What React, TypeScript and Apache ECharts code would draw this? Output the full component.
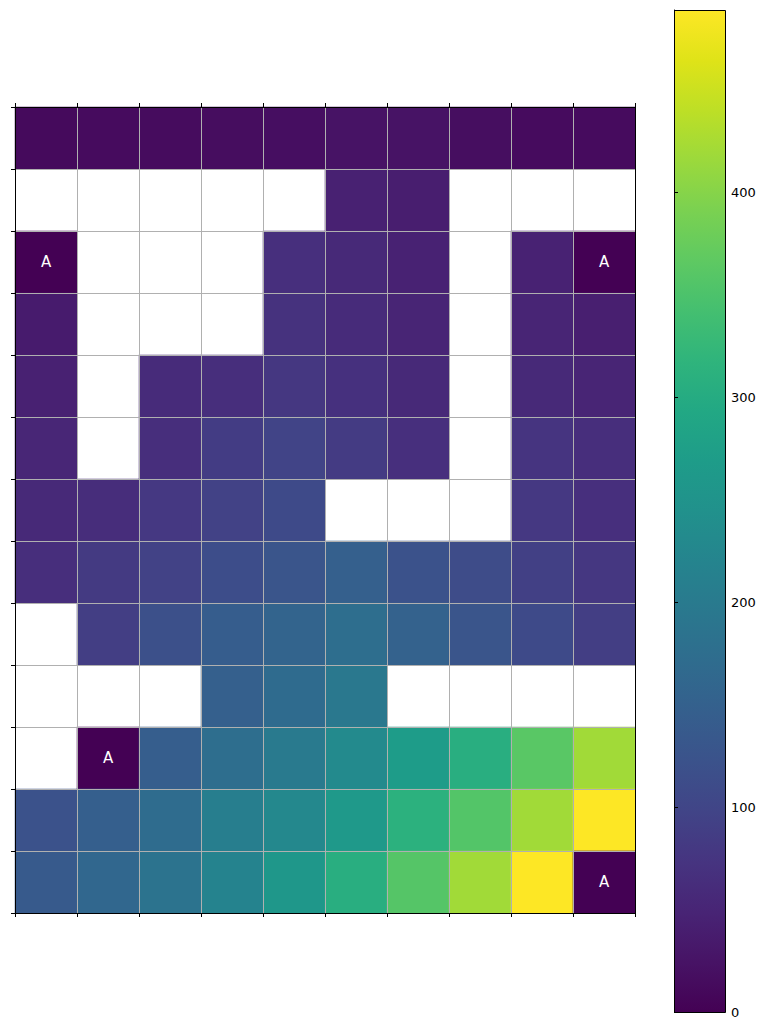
import React, { useEffect, useRef } from "react";
import * as echarts from "echarts";

const columns = ["0", "1", "2", "3", "4", "5", "6", "7", "8", "9"];
const rows = ["0", "1", "2", "3", "4", "5", "6", "7", "8", "9", "10", "11", "12"];

// null = missing cell (drawn white)
const row0 = [12, 14, 15, 16, 18, 24, 24, 17, 14, 14];
const row1 = [null, null, null, null, null, 44, 40, null, null, null];
const row2 = [0, null, null, null, 66, 56, 46, null, 46, 0];
const row3 = [36, null, null, null, 70, 60, 50, null, 50, 42];
const row4 = [44, null, 60, 64, 78, 68, 56, null, 56, 50];
const row5 = [52, null, 64, 86, 98, 84, 66, null, 74, 64];
const row6 = [56, 62, 80, 94, 108, null, null, null, 80, 66];
const row7 = [64, 82, 94, 114, 128, 148, 122, 112, 92, 78];
const row8 = [null, 88, 118, 142, 156, 176, 152, 128, 108, 88];
const row9 = [null, null, null, 148, 170, 196, null, null, null, null];
const row10 = [null, 0, 144, 176, 200, 232, 268, 306, 362, 420];
const row11 = [122, 146, 172, 208, 228, 262, 312, 356, 420, 489];
const row12 = [138, 162, 186, 218, 258, 306, 358, 420, 489, 0];

// annotations: [col, row, text]
const annotations: [number, number, string][] = [
  [0, 2, "A"],
  [9, 2, "A"],
  [1, 10, "A"],
  [9, 12, "A"],
];

const colorMin = 0;
const colorMax = 489;
const colorbarTicks = [0, 100, 200, 300, 400];

const viridis = [
  "#440154", "#471365", "#482475", "#463480", "#414487", "#3b528b",
  "#355f8d", "#2f6c8e", "#2a788e", "#25848e", "#21918c", "#1e9c89",
  "#22a884", "#2fb47c", "#44bf70", "#5ec962", "#7ad151", "#9bd93c",
  "#bddf26", "#dfe318", "#fde725",
];

const table = [row0, row1, row2, row3, row4, row5, row6, row7, row8, row9, row10, row11, row12];

export default function App() {
  const ref = useRef<HTMLDivElement>(null);
  useEffect(() => {
    if (!ref.current) return;
    const chart = echarts.init(ref.current, null, { renderer: "svg" });

    const data: any[] = [];
    table.forEach((r, ri) => {
      r.forEach((v, ci) => {
        if (v === null) return;
        const ann = annotations.find((a) => a[0] === ci && a[1] === ri);
        const item: any = { value: [ci, ri, v] };
        if (ann) {
          item.label = {
            show: true,
            formatter: ann[2],
            color: "#ffffff",
            fontSize: 15,
            fontFamily: "DejaVu Sans",
          };
        }
        data.push(item);
      });
    });

    const stops = viridis.map((c, i) => ({ offset: i / (viridis.length - 1), color: c }));

    const cbLeft = 674;
    const cbTop = 10;
    const cbWidth = 51;
    const cbHeight = 1002;

    chart.setOption({
      animation: false,
      backgroundColor: "#ffffff",
      grid: [
        { left: 15, top: 107, width: 620, height: 806 },
        { left: cbLeft, top: cbTop, width: cbWidth, height: cbHeight },
      ],
      xAxis: [
        {
          type: "category",
          gridIndex: 0,
          data: columns,
          position: "bottom",
          z: 5,
          axisLine: { show: true, lineStyle: { color: "#000", width: 1 } },
          axisTick: { show: true, length: 4, interval: 0, lineStyle: { color: "#000" } },
          axisLabel: { show: false },
          splitLine: { show: true, interval: 0, lineStyle: { color: "#b0b0b0", width: 1 } },
        },
        {
          type: "category",
          gridIndex: 0,
          data: columns,
          position: "top",
          z: 5,
          axisLine: { show: true, lineStyle: { color: "#000", width: 1 } },
          axisTick: { show: true, length: 4, interval: 0, lineStyle: { color: "#000" } },
          axisLabel: { show: false },
          splitLine: { show: false },
        },
        {
          type: "value",
          gridIndex: 1,
          show: false,
        },
      ],
      yAxis: [
        {
          type: "category",
          gridIndex: 0,
          data: rows,
          inverse: true,
          position: "left",
          z: 5,
          axisLine: { show: true, lineStyle: { color: "#000", width: 1 } },
          axisTick: { show: true, length: 4, interval: 0, lineStyle: { color: "#000" } },
          axisLabel: { show: false },
          splitLine: { show: true, interval: 0, lineStyle: { color: "#b0b0b0", width: 1 } },
        },
        {
          type: "category",
          gridIndex: 0,
          data: rows,
          inverse: true,
          position: "right",
          z: 5,
          axisLine: { show: true, lineStyle: { color: "#000", width: 1 } },
          axisTick: { show: false },
          axisLabel: { show: false },
          splitLine: { show: false },
        },
        {
          type: "value",
          gridIndex: 1,
          position: "right",
          min: colorMin,
          max: colorMax,
          interval: 100,
          z: 5,
          axisLine: { show: true, lineStyle: { color: "#000", width: 1 } },
          axisTick: { show: true, length: 4, lineStyle: { color: "#000" } },
          axisLabel: {
            show: true,
            color: "#000",
            fontSize: 13,
            fontFamily: "DejaVu Sans",
            margin: 6,
            showMaxLabel: false,
            formatter: (v: number) => (colorbarTicks.includes(v) ? String(v) : ""),
          },
          splitLine: { show: false },
        },
      ],
      visualMap: {
        show: false,
        type: "continuous",
        min: colorMin,
        max: colorMax,
        dimension: 2,
        seriesIndex: 0,
        inRange: { color: viridis },
      },
      graphic: [
        {
          type: "rect",
          left: cbLeft,
          top: cbTop,
          z: 1,
          shape: { width: cbWidth, height: cbHeight },
          style: {
            fill: new echarts.graphic.LinearGradient(0, 1, 0, 0, stops),
            stroke: "#000",
            lineWidth: 1,
          },
        },
      ],
      series: [
        {
          type: "heatmap",
          xAxisIndex: 0,
          yAxisIndex: 0,
          data,
          label: { show: false },
          itemStyle: { borderWidth: 0 },
          emphasis: { disabled: true },
        },
      ],
    });
    return () => chart.dispose();
  }, []);
  return (
    <div
      ref={ref}
      style={{ position: "fixed", left: 0, top: 0, width: 769, height: 1029 }}
    />
  );
}
